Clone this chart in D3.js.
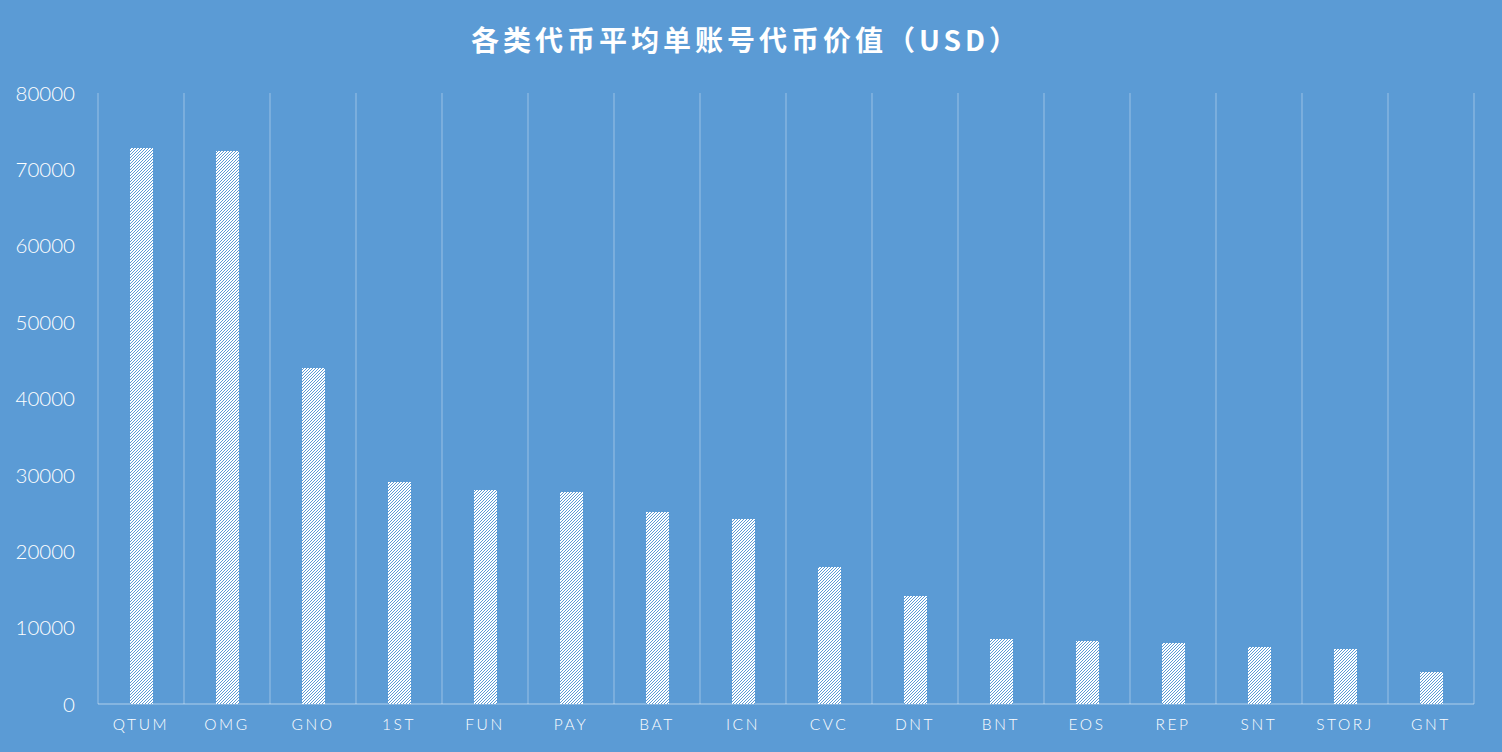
<!DOCTYPE html>
<html><head><meta charset="utf-8">
<script src="https://cdn.jsdelivr.net/npm/d3@7"></script>
<style>
html,body{margin:0;padding:0;background:#5B9BD5;}
svg{display:block;}
</style></head>
<body>
<svg id="chart" width="1502" height="752"></svg>
<script>
const categories = ["QTUM","OMG","GNO","1ST","FUN","PAY","BAT","ICN","CVC","DNT","BNT","EOS","REP","SNT","STORJ","GNT"];
const values = [72800,72400,44000,29100,28000,27800,25100,24200,17900,14100,8500,8200,8000,7500,7200,4200];
const yTicks = [0,10000,20000,30000,40000,50000,60000,70000,80000];
const title = "各类代币平均单账号代币价值（USD）";

const W = 1502, H = 752;
const m = {left: 98, right: 28, top: 93, bottom: 48};
const svg = d3.select("#chart");
svg.append("rect").attr("width", W).attr("height", H).attr("fill", "#5B9BD5");

const defs = svg.append("defs");
const pat = defs.append("pattern").attr("id","hatch").attr("patternUnits","userSpaceOnUse")
  .attr("width",3).attr("height",3);
pat.append("rect").attr("width",3).attr("height",3).attr("fill","#ffffff");
[[0,2],[1,1],[2,0]].forEach(p => pat.append("rect").attr("x",p[0]).attr("y",p[1])
  .attr("width",1).attr("height",1).attr("fill","#5B9BD5").attr("shape-rendering","crispEdges"));

const x = d3.scaleBand().domain(categories).range([m.left, W - m.right]).paddingInner(0).paddingOuter(0);
const y = d3.scaleLinear().domain([0, 80000]).range([H - m.bottom, m.top]);

// vertical category separators
const seps = categories.map(c => x(c)).concat([x(categories[categories.length-1]) + x.bandwidth()]);
svg.append("g").selectAll("line").data(seps).join("line")
  .attr("x1", d => d).attr("x2", d => d)
  .attr("y1", y(80000)).attr("y2", y(0))
  .attr("stroke", "rgba(255,255,255,0.3)").attr("stroke-width", 1.3);

// baseline
svg.append("line").attr("x1", m.left).attr("x2", W - m.right)
  .attr("y1", y(0)).attr("y2", y(0))
  .attr("stroke", "rgba(255,255,255,0.35)").attr("stroke-width", 1.3);

// bars
const bw = 23;
svg.append("g").selectAll("rect").data(values).join("rect")
  .attr("x", (d,i) => Math.round(x(categories[i]) + x.bandwidth()/2 - bw/2))
  .attr("width", bw)
  .attr("y", d => Math.round(y(d)))
  .attr("height", d => Math.round(y(0)) - Math.round(y(d)))
  .attr("fill", "url(#hatch)")
  .attr("shape-rendering", "crispEdges");

// y axis
const yAxis = d3.axisLeft(y).tickValues(yTicks).tickSize(0).tickPadding(0).tickFormat(d3.format("d"));
const gy = svg.append("g").attr("transform", `translate(${m.left - 23},0)`).call(yAxis);
gy.select(".domain").remove();
gy.selectAll("text").attr("fill", "#ffffff").attr("font-family", "Lato, 'Open Sans', sans-serif")
  .attr("font-weight", 300).attr("font-size", 20.5).attr("dy", "0.35em");

// x axis
const xAxis = d3.axisBottom(x).tickSize(0).tickPadding(0);
const gx = svg.append("g").attr("transform", `translate(0,${y(0)})`).call(xAxis);
gx.select(".domain").remove();
gx.selectAll("text").attr("fill", "#ffffff").attr("font-family", "Lato, 'Open Sans', sans-serif")
  .attr("font-weight", 300).attr("font-size", 15.5).attr("letter-spacing", "2.6px")
  .attr("y", 21).attr("dy", "0.35em");

// title
svg.append("text").attr("x", 746).attr("y", 43).attr("text-anchor", "middle")
  .attr("fill", "#ffffff").attr("font-family", "'Noto Sans CJK SC', sans-serif")
  .attr("font-weight", 700).attr("font-size", 28).attr("letter-spacing", "4px")
  .attr("dominant-baseline", "middle").text(title);
</script>
</body></html>
